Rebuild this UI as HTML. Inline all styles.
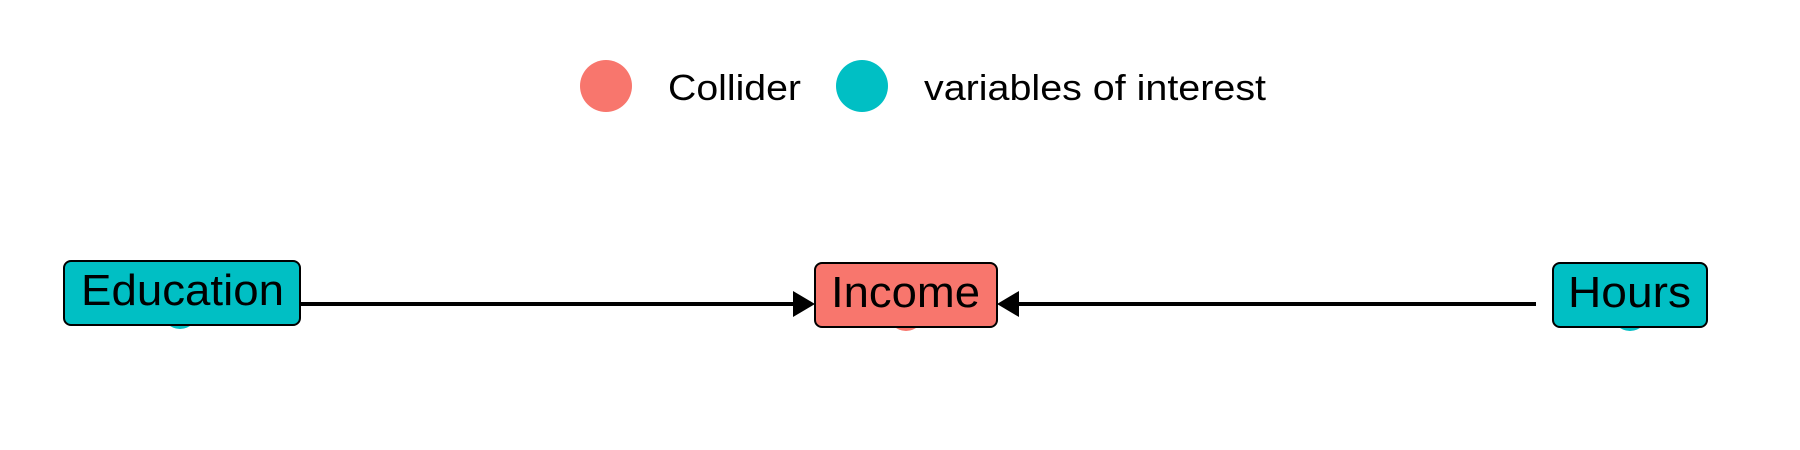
<!DOCTYPE html>
<html><head><style>html,body{margin:0;padding:0;background:#fff}svg{display:block}</style></head>
<body>
<svg width="1800" height="450" viewBox="0 0 1800 450" xmlns="http://www.w3.org/2000/svg" font-family="Liberation Sans, sans-serif">
<circle cx="606" cy="86" r="26" fill="#F8766D"/>
<text x="668" y="100" font-size="36" textLength="133" lengthAdjust="spacingAndGlyphs">Collider</text>
<circle cx="862" cy="86" r="26" fill="#00BFC4"/>
<text x="924" y="100" font-size="36" textLength="342" lengthAdjust="spacingAndGlyphs">variables of interest</text>
<circle cx="180" cy="311" r="18" fill="#00BFC4"/>
<circle cx="906" cy="313" r="18" fill="#F8766D"/>
<circle cx="1630" cy="313" r="18" fill="#00BFC4"/>
<line x1="300" y1="304" x2="800" y2="304" stroke="#000" stroke-width="4"/>
<polygon points="815,304 793,291 793,317" fill="#000"/>
<line x1="1536" y1="304" x2="1012" y2="304" stroke="#000" stroke-width="4"/>
<polygon points="997,304 1019,291 1019,317" fill="#000"/>
<rect x="64" y="261" width="236" height="64" rx="7" fill="#00BFC4" stroke="#000" stroke-width="2"/>
<text x="81" y="305" font-size="44" textLength="203" lengthAdjust="spacingAndGlyphs">Education</text>
<rect x="815" y="263" width="182" height="64" rx="7" fill="#F8766D" stroke="#000" stroke-width="2"/>
<text x="831" y="307" font-size="44" textLength="149" lengthAdjust="spacingAndGlyphs">Income</text>
<rect x="1553" y="263" width="154" height="64" rx="7" fill="#00BFC4" stroke="#000" stroke-width="2"/>
<text x="1568" y="307" font-size="44" textLength="123" lengthAdjust="spacingAndGlyphs">Hours</text>
</svg>
</body></html>
